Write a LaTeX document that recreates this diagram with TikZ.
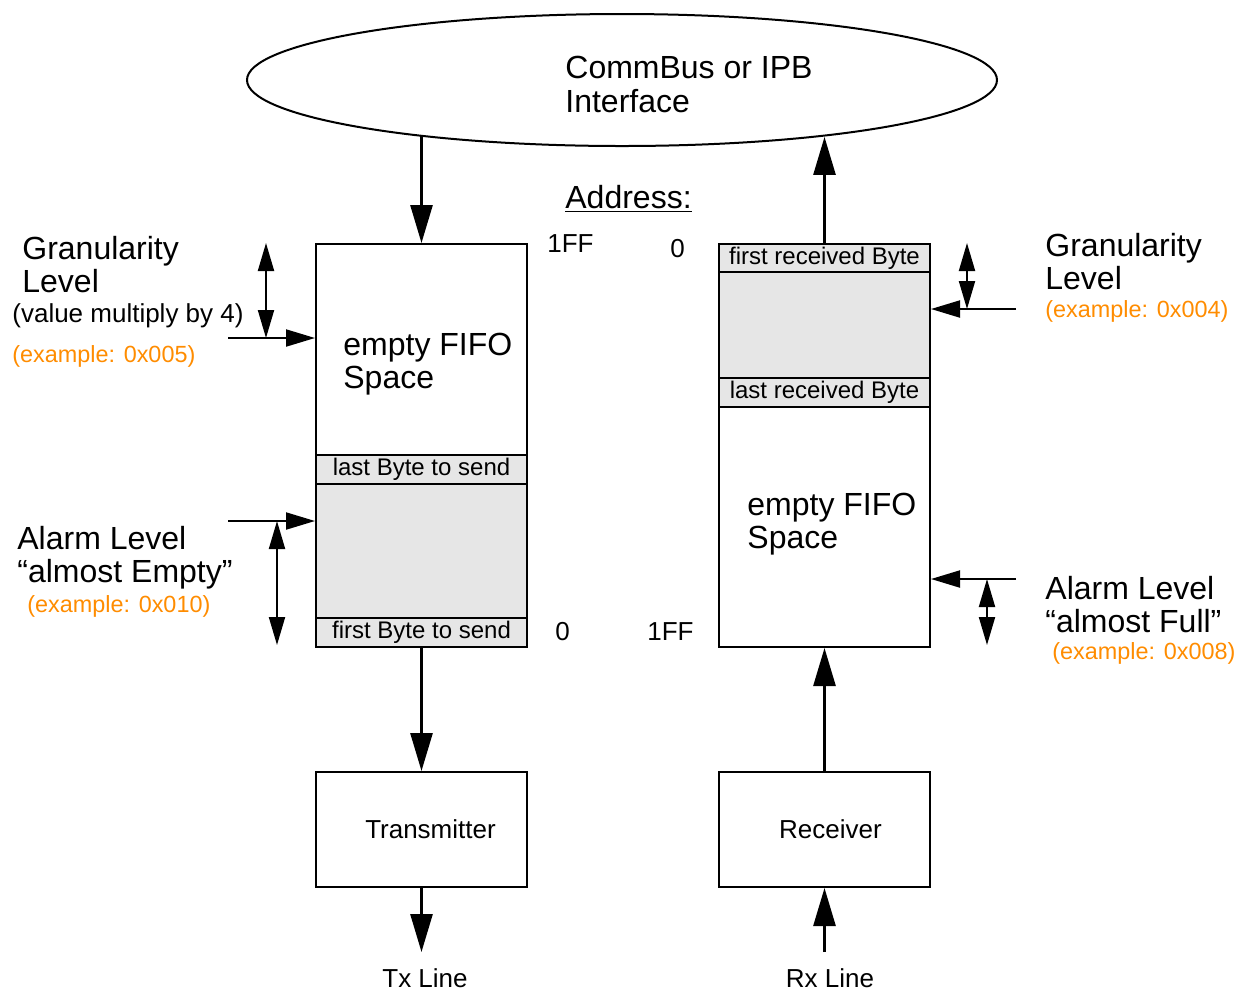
\documentclass[tikz,border=0pt]{standalone}
\usepackage{fontspec}
\setmainfont{Liberation Sans}
\usepackage{xcolor}
\usepackage{tikz}
\usetikzlibrary{arrows.meta, positioning, shapes.geometric}
\definecolor{fifoFill}{HTML}{E6E6E6}
\definecolor{fifoExample}{HTML}{FF8C00}

\begin{document}
\begin{tikzpicture}[
  x=0.5pt, y=-0.5pt,
  big/.style={font=\fontsize{16}{16.5}\selectfont, inner sep=0pt, anchor=base west, align=left},
  mid/.style={font=\fontsize{13}{15}\selectfont, inner sep=0pt, anchor=base west},
  note/.style={font=\fontsize{11.7}{14}\selectfont, text=fifoExample, inner sep=0pt, anchor=base west},
  cell/.style={draw, line width=1pt, minimum width=105.5pt, inner sep=0pt, anchor=north west},
  band/.style={cell, fill=fifoFill, minimum height=14.5pt, font=\fontsize{12}{12}\selectfont},
  stock/.style={cell, fill=fifoFill},
  unit/.style={draw, line width=1pt, minimum width=105.5pt, minimum height=57.5pt,
               anchor=north west, font=\fontsize{13}{13}\selectfont},
  a/.style={-{Triangle[length=19pt, width=11pt]}, line width=1.35pt},
  lvl/.style={-{Triangle[length=14.5pt, width=8.5pt]}, line width=1pt},
  dbl/.style={{Triangle[length=14pt, width=8pt]}-{Triangle[length=14pt, width=8pt]}, line width=1pt}
]
\useasboundingbox (0,0) rectangle (1238,993);

\node[draw, ellipse, line width=1pt, minimum width=375pt, minimum height=66pt, inner sep=0pt] (bus) at (622,80) {};
\node[big, font=\fontsize{16}{17}\selectfont] (bustxt) at (565,112) {CommBus or IPB\\Interface};
\node[big] (addr) at (565,208) {\underline{Address:}};

\node[cell, minimum height=105.5pt] (txfree) at (315,243) {};
\node[band] (txlast) at (315,454) {last Byte to send};
\node[stock, minimum height=67pt] (txdata) at (315,483) {};
\node[band] (txfirst) at (315,617) {first Byte to send};
\node[big] (txspace) at (343,388) {empty FIFO\\Space};

\node[band] (rxfirst) at (718,243) {first received Byte};
\node[stock, minimum height=53pt] (rxdata) at (718,271) {};
\node[band] (rxlast) at (718,377) {last received Byte};
\node[cell, minimum height=120pt] (rxfree) at (718,406) {};
\node[big] (rxspace) at (747,548) {empty FIFO\\Space};

\node[mid] (txtop) at (547,252) {1FF};
\node[mid] (rxtop) at (670,257) {0};
\node[mid] (txbot) at (555,640) {0};
\node[mid] (rxbot) at (647,640) {1FF};

\node[unit] (tx) at (315,771) {\hspace*{9pt}Transmitter};
\node[unit] (rx) at (718,771) {\hspace*{6pt}Receiver};
\node[mid, anchor=base] (txline) at (425,987) {Tx Line};
\node[mid, anchor=base] (rxline) at (830,987) {Rx Line};
\coordinate (txend) at (420,952);
\coordinate (rxstart) at (823,952);

\draw[a] (bus.195.4 -| txfree.north) -- (txfree.north);
\draw[a] (rxfirst.north) -- (bus.344.7 -| rxfirst.north);
\draw[a] (txfirst.south) -- (tx.north);
\draw[a] (tx.south) -- (tx.south |- txend);
\draw[a] (rx.south |- rxstart) -- (rx.south);
\draw[a] (rx.north) -- (rxfree.south);

\node[big] (txgran) at (22,292) {Granularity\\Level};
\node[mid] (txmult) at (12,322) {(value multiply by 4)};
\node[note] (txgranex) at (12,362) {(example: 0x005)};
\node[big] (txalarm) at (17,582) {Alarm Level\\“almost Empty”};
\node[note] (txalarmex) at (27,612) {(example: 0x010)};

\node[big] (rxgran) at (1045,289) {Granularity\\Level};
\node[note] (rxgranex) at (1045,317) {(example: 0x004)};
\node[big] (rxalarm) at (1045,632) {Alarm Level\\“almost Full”};
\node[note] (rxalarmex) at (1052,659) {(example: 0x008)};

\coordinate (txgin) at (228,338);
\coordinate (txgtop) at (266,243);
\coordinate (txain) at (228,521);
\coordinate (txabot) at (277,645);
\draw[lvl] (txgin) -- (txgin -| txfree.west);
\draw[dbl] (txgtop) -- (txgtop |- txgin);
\draw[lvl] (txain) -- (txain -| txdata.west);
\draw[dbl] (txabot |- txain) -- (txabot);

\coordinate (rxgin) at (1016,309);
\coordinate (rxgtop) at (967,243);
\coordinate (rxain) at (1016,579);
\coordinate (rxabot) at (987,645);
\draw[lvl] (rxgin) -- (rxgin -| rxdata.east);
\draw[dbl] (rxgtop) -- (rxgtop |- rxgin);
\draw[lvl] (rxain) -- (rxain -| rxfree.east);
\draw[dbl] (rxabot |- rxain) -- (rxabot);
\end{tikzpicture}
\end{document}
